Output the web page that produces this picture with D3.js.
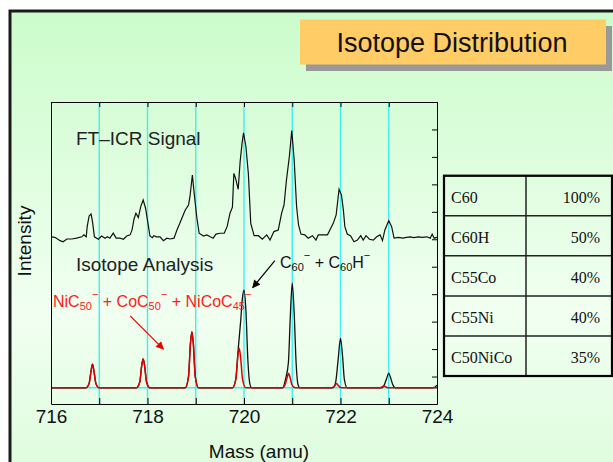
<!DOCTYPE html>
<meta charset="utf-8">
<style>
body { margin: 0; background: #fff; }
svg { display: block; font-family: "Liberation Sans", Arial, sans-serif; }
.axis path, .axis line { stroke: #000; stroke-width: 1px; }
.axis text { font-size: 19px; fill: #111; font-family: "Liberation Sans", Arial, sans-serif; }
</style>
<body>
<script src="https://d3js.org/d3.v7.min.js"></script>
<script>

// FT-ICR signal, [mass, intensity]
var ftSignal = [
  [716.00,6.09],[716.08,6.07],[716.19,5.95],[716.25,5.91],[716.33,6.01],[716.43,6.01],[716.53,6.04],
  [716.64,6.09],[716.68,6.16],[716.73,6.09],[716.75,6.46],[716.79,6.85],[716.83,6.92],[716.86,6.64],
  [716.90,6.09],[716.98,6.00],[717.05,6.12],[717.12,6.04],[717.17,6.09],[717.22,6.04],[717.29,6.22],
  [717.35,6.04],[717.43,6.04],[717.50,6.00],[717.57,6.12],[717.64,6.16],[717.68,6.34],[717.72,6.73],
  [717.76,6.95],[717.81,6.79],[717.86,7.19],[717.91,7.43],[717.96,7.13],[718.01,6.58],[718.05,6.12],
  [718.10,6.06],[718.13,6.13],[718.19,6.09],[718.26,6.09],[718.33,5.95],[718.40,6.04],[718.47,6.01],
  [718.55,6.04],[718.61,6.34],[718.67,6.58],[718.78,7.06],[718.85,7.25],[718.88,7.55],[718.93,8.34],
  [718.96,7.80],[719.02,6.82],[719.07,6.22],[719.16,6.12],[719.23,6.16],[719.30,6.09],[719.36,6.04],
  [719.42,6.19],[719.50,6.22],[719.59,6.22],[719.65,6.46],[719.71,6.95],[719.76,7.17],[719.79,8.40],
  [719.83,8.19],[719.88,7.82],[719.92,8.83],[719.96,9.50],[719.99,9.88],[720.04,9.37],[720.09,8.40],
  [720.14,6.58],[720.21,6.13],[720.30,6.13],[720.38,6.00],[720.47,6.16],[720.54,5.97],[720.62,6.28],
  [720.71,6.34],[720.78,6.95],[720.83,7.25],[720.88,8.16],[720.94,9.01],[720.99,9.96],[721.04,8.89],
  [721.09,7.19],[721.13,6.52],[721.18,6.19],[721.26,6.16],[721.33,6.04],[721.42,6.13],[721.49,5.97],
  [721.54,6.16],[721.64,6.16],[721.73,6.16],[721.78,6.34],[721.85,6.58],[721.91,6.89],[721.97,7.82],
  [722.02,7.61],[722.06,7.06],[722.09,6.46],[722.14,6.19],[722.21,6.12],[722.28,5.91],[722.35,5.97],
  [722.42,6.13],[722.47,5.97],[722.53,6.13],[722.60,6.00],[722.68,5.97],[722.75,6.09],[722.82,6.16],
  [722.87,5.95],[722.92,6.34],[723.00,6.68],[723.06,6.46],[723.11,6.04],[723.20,6.07],[723.29,6.04],
  [723.37,6.07],[723.44,6.09],[723.52,6.06],[723.61,6.09],[723.70,6.07],[723.79,6.09],[723.86,6.04],
  [723.90,6.19],[723.94,6.04],[724.00,6.07]
];

// isotope analysis, total (black)
var isoTotal = [
  [716.00,0.59],[716.72,0.59],[716.79,0.75],[716.83,1.2],[716.86,1.45],[716.89,1.2],[716.93,0.75],[717.00,0.59],
  [717.77,0.59],[717.84,0.8],[717.88,1.4],[717.91,1.64],[717.94,1.4],[717.98,0.8],[718.05,0.59],
  [718.78,0.59],[718.85,1.0],[718.89,2.2],[718.92,2.63],[718.95,2.2],[718.99,1.0],[719.06,0.59],
  [719.76,0.59],[719.83,0.9],[719.88,2.0],[719.93,3.0],[719.97,3.9],[720.00,4.15],[720.04,3.4],[720.08,1.6],[720.12,0.75],[720.16,0.59],
  [720.80,0.59],[720.86,0.9],[720.92,1.5],[720.96,3.2],[721.00,4.40],[721.04,3.3],[721.08,1.5],[721.12,0.7],[721.16,0.59],
  [721.84,0.59],[721.90,0.8],[721.95,1.6],[722.00,2.39],[722.04,1.8],[722.08,0.9],[722.14,0.59],
  [722.86,0.59],[722.92,0.75],[722.96,0.95],[723.00,1.12],[723.04,0.95],[723.08,0.72],[723.14,0.59],
  [723.90,0.59],[723.96,0.62],[724.00,0.68]
];

// isotope analysis, metal clusters (red)
var isoMetal = [
  [716.00,0.59],[716.72,0.59],[716.79,0.75],[716.83,1.2],[716.86,1.45],[716.89,1.2],[716.93,0.75],[717.00,0.59],
  [717.77,0.59],[717.84,0.8],[717.88,1.4],[717.91,1.64],[717.94,1.4],[717.98,0.8],[718.05,0.59],
  [718.78,0.59],[718.85,1.0],[718.89,2.2],[718.92,2.63],[718.95,2.2],[718.99,1.0],[719.06,0.59],
  [719.76,0.59],[719.83,0.9],[719.87,1.7],[719.90,2.03],[719.93,1.7],[719.97,0.9],[720.04,0.59],
  [720.80,0.59],[720.86,0.75],[720.90,1.0],[720.92,1.12],[720.95,1.0],[720.99,0.72],[721.06,0.59],
  [721.82,0.59],[721.88,0.66],[721.92,0.75],[721.96,0.66],[722.02,0.59],
  [722.82,0.59],[722.90,0.66],[722.98,0.59],
  [724.00,0.59]
];

var baseLevel = 0.59;
var gridMasses = [717, 718, 719, 720, 721, 722, 723];
var xTicks = [716, 717, 718, 719, 720, 721, 722, 723, 724];
var yTicks = [0, 1, 2, 3, 4, 5, 6, 7, 8, 9, 10, 11];

var species = ["C60", "C60H", "C55Co", "C55Ni", "C50NiCo"];
var shares = ["100%", "50%", "40%", "40%", "35%"];

// arrows, [from, to] in mass / intensity
var blackArrow = [[720.64, 5.22], [720.18, 4.24]];
var redArrow = [[717.64, 3.21], [718.33, 2.0]];

var W = 613, H = 462;
var svg = d3.select("body").append("svg")
    .attr("width", W)
    .attr("height", H);

var defs = svg.append("defs");
var grad = defs.append("linearGradient")
    .attr("id", "bg").attr("x1", 0).attr("y1", 0).attr("x2", 0).attr("y2", 1);
grad.append("stop").attr("offset", "0").attr("stop-color", "#cbfccb");
grad.append("stop").attr("offset", "0.5").attr("stop-color", "#f1fff1");
grad.append("stop").attr("offset", "1").attr("stop-color", "#cdfacd");

function marker(id, col) {
  defs.append("marker")
      .attr("id", id)
      .attr("viewBox", "0 0 10 10")
      .attr("refX", 9).attr("refY", 5)
      .attr("markerWidth", 10).attr("markerHeight", 8)
      .attr("markerUnits", "userSpaceOnUse")
      .attr("orient", "auto")
    .append("path")
      .attr("d", "M0,0 L10,5 L0,10 z")
      .attr("fill", col);
}
marker("arrB", "#000");
marker("arrR", "#ee0000");

// slide frame
svg.append("rect")
    .attr("x", 10).attr("y", 11)
    .attr("width", 700).attr("height", 600)
    .attr("fill", "url(#bg)")
    .attr("stroke", "#1a1a1a")
    .attr("stroke-width", 3);

// title box
svg.append("rect").attr("x", 306).attr("y", 26).attr("width", 306).attr("height", 45).attr("fill", "#999");
svg.append("rect").attr("x", 300).attr("y", 19.5).attr("width", 306).attr("height", 45).attr("fill", "#ffcc66");
svg.append("text")
    .attr("x", 452).attr("y", 52)
    .attr("text-anchor", "middle")
    .style("font-size", "27px")
    .style("fill", "#111")
    .text("Isotope Distribution");

// plot
var pLeft = 51, pRight = 437, pTop = 102, pBottom = 404;

var x = d3.scaleLinear().domain([716, 724]).range([pLeft, pRight]);
var y = d3.scaleLinear().domain([0, 11]).range([pBottom, pTop]);

// cyan guides
svg.selectAll(".grid")
    .data(gridMasses)
  .enter().append("line")
    .attr("x1", function(d) { return x(d); })
    .attr("x2", function(d) { return x(d); })
    .attr("y1", pTop).attr("y2", pBottom)
    .attr("stroke", "#3ef0f0")
    .attr("stroke-width", 1.4);

svg.append("line")
    .attr("x1", pLeft).attr("x2", pRight)
    .attr("y1", y(baseLevel)).attr("y2", y(baseLevel))
    .attr("stroke", "#3ef0f0")
    .attr("stroke-width", 1.4);

var line = d3.line()
    .x(function(d) { return x(d[0]); })
    .y(function(d) { return y(d[1]); });

var smooth = d3.line()
    .curve(d3.curveMonotoneX)
    .x(function(d) { return x(d[0]); })
    .y(function(d) { return y(d[1]); });

svg.append("path")
    .datum(ftSignal)
    .attr("d", line)
    .attr("fill", "none")
    .attr("stroke", "#111")
    .attr("stroke-width", 1.2);

svg.append("path")
    .datum(isoTotal)
    .attr("d", smooth)
    .attr("fill", "none")
    .attr("stroke", "#111")
    .attr("stroke-width", 1.3);

svg.append("path")
    .datum(isoMetal)
    .attr("d", smooth)
    .attr("fill", "none")
    .attr("stroke", "#dd0000")
    .attr("stroke-width", 1.5);

// axes
svg.append("g")
    .attr("class", "axis")
    .attr("transform", "translate(0," + pBottom + ")")
    .call(d3.axisBottom(x).tickValues(xTicks).tickSize(-6).tickSizeOuter(0).tickPadding(6)
      .tickFormat(function(d) { return d % 2 === 0 ? d : ""; }));

svg.append("g")
    .attr("class", "axis")
    .attr("transform", "translate(0," + pTop + ")")
    .call(d3.axisTop(x).tickValues(xTicks).tickSize(-5).tickSizeOuter(0).tickFormat(""));

svg.append("g")
    .attr("class", "axis")
    .attr("transform", "translate(" + pRight + ",0)")
    .call(d3.axisRight(y).tickValues(yTicks).tickSize(-5).tickSizeOuter(0).tickFormat(""));

svg.append("g")
    .attr("class", "axis")
    .attr("transform", "translate(" + pLeft + ",0)")
    .call(d3.axisLeft(y).tickValues([]).tickSizeOuter(0));

// axis titles
svg.append("text")
    .attr("x", 259).attr("y", 458)
    .attr("text-anchor", "middle")
    .style("font-size", "19px").style("fill", "#111")
    .text("Mass (amu)");

svg.append("text")
    .attr("transform", "translate(31,241)rotate(-90)")
    .attr("text-anchor", "middle")
    .style("font-size", "19px").style("fill", "#111")
    .text("Intensity");

// labels
svg.append("text")
    .attr("x", 76).attr("y", 145)
    .style("font-size", "19px").style("fill", "#222")
    .text("FT\u2013ICR Signal");

svg.append("text")
    .attr("x", 76).attr("y", 271)
    .style("font-size", "19px").style("fill", "#222")
    .text("Isotope Analysis");

// chemical formula with sub / superscripts
function formula(parts, px, py, col) {
  var t = svg.append("text")
      .attr("x", px).attr("y", py)
      .style("font-size", "16px")
      .style("fill", col);
  var level = 0;
  parts.forEach(function(p) {
    var target = p[1] === "sub" ? 3 : (p[1] === "sup" ? -9 : 0);
    t.append("tspan")
        .attr("dy", target - level)
        .style("font-size", p[1] ? "11px" : "16px")
        .text(p[0]);
    level = target;
  });
}

formula([["NiC"], ["50", "sub"], ["\u2212", "sup"], [" + CoC"], ["50", "sub"], ["\u2212", "sup"],
         [" + NiCoC"], ["45", "sub"], ["\u2212", "sup"]], 53, 306.5, "#ff1a1a");

formula([["C"], ["60", "sub"], ["\u2212", "sup"], [" + C"], ["60", "sub"], ["H"], ["\u2212", "sup"]],
        280, 268, "#111");

svg.append("line")
    .attr("x1", x(blackArrow[0][0])).attr("y1", y(blackArrow[0][1]))
    .attr("x2", x(blackArrow[1][0])).attr("y2", y(blackArrow[1][1]))
    .attr("stroke", "#000").attr("stroke-width", 1.2)
    .attr("marker-end", "url(#arrB)");

svg.append("line")
    .attr("x1", x(redArrow[0][0])).attr("y1", y(redArrow[0][1]))
    .attr("x2", x(redArrow[1][0])).attr("y2", y(redArrow[1][1]))
    .attr("stroke", "#ee0000").attr("stroke-width", 1.2)
    .attr("marker-end", "url(#arrR)");

// table
var tx0 = 444, tx1 = 613, tmid = 526, ty0 = 175.7, rowH = 40.06;

var rows = svg.append("g").selectAll("g")
    .data(species)
  .enter().append("g")
    .attr("transform", function(d, i) { return "translate(0," + (ty0 + i * rowH) + ")"; });

rows.append("line")
    .attr("x1", tx0).attr("x2", tx1)
    .attr("y1", 0).attr("y2", 0)
    .attr("stroke", "#222").attr("stroke-width", 1.5);

rows.append("text")
    .attr("x", 451).attr("y", 27.5)
    .style("font-family", "'Liberation Serif', 'Times New Roman', serif")
    .style("font-size", "16px").style("fill", "#111")
    .text(function(d) { return d; });

rows.append("text")
    .attr("x", 600).attr("y", 27.5)
    .attr("text-anchor", "end")
    .style("font-family", "'Liberation Serif', 'Times New Roman', serif")
    .style("font-size", "16px").style("fill", "#111")
    .text(function(d, i) { return shares[i]; });

svg.append("line")
    .attr("x1", tmid).attr("x2", tmid)
    .attr("y1", ty0).attr("y2", ty0 + rowH * species.length)
    .attr("stroke", "#222").attr("stroke-width", 1.5);

svg.append("rect")
    .attr("x", tx0).attr("y", ty0)
    .attr("width", tx1 - tx0 - 1).attr("height", rowH * species.length)
    .attr("fill", "none")
    .attr("stroke", "#000")
    .attr("stroke-width", 2.2);

</script>
</body>
